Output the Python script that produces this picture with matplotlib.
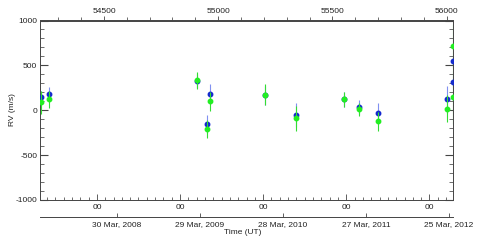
import matplotlib
matplotlib.use("Agg")
import matplotlib.pyplot as plt
import numpy as np
from matplotlib.ticker import FixedLocator, MultipleLocator

plt.rcParams['font.family'] = ['Liberation Sans', 'DejaVu Sans']

# Data (MJD, RV m/s, error m/s)
mjd_blue = [54224, 54259, 54907, 54951, 54964, 55205, 55341, 55551, 55617, 55700, 56002, 56028, 56028]
rv_blue = [145, 178, 325, -155, 180, 165, -55, 120, 35, -30, 120, 545, 320]
err_blue = [70, 80, 80, 100, 110, 110, 135, 80, 80, 110, 150, 60, 60]

mjd_green = [54224, 54259, 54907, 54951, 54964, 55205, 55341, 55551, 55617, 55700, 56002, 56028, 56028]
rv_green = [90, 120, 335, -210, 100, 175, -90, 120, 10, -125, 15, 715, 145]
err_green = [130, 95, 95, 100, 105, 115, 140, 85, 75, 110, 150, 250, 300]

top_ticks = [54500, 55000, 55500, 56000]
top_labels = ["54500", "55000", "55500", "56000"]
hour_ticks = [54469, 54833, 55197, 55561, 55925]
hour_labels = ["00", "00", "00", "00", "00"]
date_ticks = [54555, 54919, 55283, 55647, 56011]
date_labels = ["30 Mar, 2008", "29 Mar, 2009", "28 Mar, 2010", "27 Mar, 2011", "25 Mar, 2012"]
y_ticks = [-1000, -500, 0, 500, 1000]
y_labels = ["-1000", "-500", "0", "500", "1000"]

W, H = 485, 242
fig = plt.figure(figsize=(W / 100, H / 100), dpi=100)
ax = fig.add_axes([40 / W, 1 - 200 / H, 413 / W, 179.5 / H])

spine_col = '#444444'
for s in ax.spines.values():
    s.set_color(spine_col)
    s.set_linewidth(0.7)

ax.errorbar(mjd_blue, rv_blue, yerr=err_blue, fmt='o', color='#1428d0', ms=3.2,
            ecolor='#8090f0', elinewidth=0.8, capsize=0, zorder=3)
ax.errorbar(mjd_green, rv_green, yerr=err_green, fmt='o', color='#22ee22', ms=3.2,
            ecolor='#33dd33', elinewidth=0.8, capsize=0, zorder=4)

ax.set_xlim(54220, 56028)
ax.set_ylim(-1000, 1000)

# y axis
ax.yaxis.set_major_locator(FixedLocator(y_ticks))
ax.set_yticklabels(y_labels)
ax.yaxis.set_minor_locator(MultipleLocator(100))
ax.tick_params(axis='y', which='major', direction='in', length=6, width=0.8,
               color='#444444', right=True, labelsize=6, pad=2, labelcolor='#222222')
ax.tick_params(axis='y', which='minor', direction='in', length=3, width=0.6,
               color='#555555', right=True)

# bottom x axis (hours)
ax.xaxis.set_major_locator(FixedLocator(hour_ticks))
ax.set_xticklabels(hour_labels)
minor_hours = np.arange(54469 - 364, 56100, 36.4)
ax.xaxis.set_minor_locator(FixedLocator(minor_hours))
ax.tick_params(axis='x', which='major', direction='in', length=4, width=0.6,
               color='#444444', labelsize=6, pad=3, labelcolor='#222222')
ax.tick_params(axis='x', which='minor', direction='in', length=2.5, width=0.6,
               color='#555555')

# top axis (MJD)
top = ax.secondary_xaxis('top')
top.xaxis.set_major_locator(FixedLocator(top_ticks))
top.set_xticklabels(top_labels)
top.xaxis.set_minor_locator(MultipleLocator(100))
top.tick_params(axis='x', which='major', direction='out', length=3, width=0.6,
                color='#444444', labelsize=6, pad=1, labelcolor='#222222')
top.tick_params(axis='x', which='minor', direction='out', length=2.5, width=0.6,
                color='#555555')
top.spines['top'].set_color(spine_col)
top.spines['top'].set_linewidth(0.7)

# second bottom axis (dates)
dates = ax.secondary_xaxis(-16.5 / 179.5)
dates.xaxis.set_major_locator(FixedLocator(date_ticks))
dates.set_xticklabels(date_labels)
dates.tick_params(axis='x', which='major', direction='in', length=3, width=0.6,
                  color='#444444', labelsize=6, pad=3, labelcolor='#222222')
dates.tick_params(axis='x', which='minor', length=0)
dates.spines['bottom'].set_color(spine_col)
dates.spines['bottom'].set_linewidth(0.7)

fig.text(13 / W, 1 - 110 / H, "RV (m/s)", rotation=90, ha='center', va='center',
         fontsize=6, color='#222222')
fig.text(243 / W, 1 - 233 / H, "Time (UT)", ha='center', va='center',
         fontsize=6, color='#222222')

fig.savefig("out.png", dpi=100)
